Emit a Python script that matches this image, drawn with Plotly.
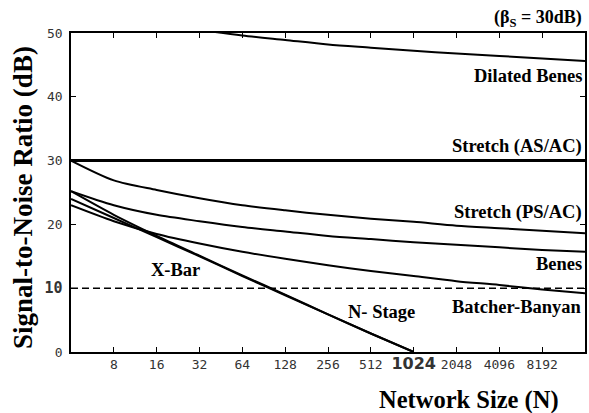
import math
import plotly.graph_objects as go

# ---- data ----
network_size = [4, 8, 16, 32, 64, 128, 256, 512, 1024, 2048, 4096, 8192, 16384]
dilated_benes = [55.2, 53.0, 51.5, 50.5, 49.6, 48.9, 48.2, 47.7, 47.2, 46.8, 46.4, 46.0, 45.6]
stretch_as_ac = [30.0, 30.0, 30.0, 30.0, 30.0, 30.0, 30.0, 30.0, 30.0, 30.0, 30.0, 30.0, 30.0]
stretch_ps_ac = [30.0, 26.9, 25.4, 24.1, 23.0, 22.2, 21.5, 20.9, 20.4, 19.8, 19.4, 19.0, 18.6]
benes = [25.2, 23.0, 21.5, 20.5, 19.6, 18.9, 18.2, 17.7, 17.2, 16.8, 16.4, 16.0, 15.7]
batcher_banyan = [23.0, 20.5, 18.5, 17.0, 15.7, 14.6, 13.6, 12.7, 11.9, 11.1, 10.5, 9.8, 9.2]
xbar_size = [4, 8, 16, 32, 64, 128, 256, 512, 1024]
xbar = [25.2, 21.5, 18.2, 15.1, 12.0, 9.0, 5.9, 2.9, 0.0]
n_stage = [24.0, 21.0, 18.0, 15.0, 11.9, 8.9, 5.9, 2.9, 0.0]
threshold_db = 10

x_tick_vals = [8, 16, 32, 64, 128, 256, 512, 1024, 2048, 4096, 8192]
x_tick_text = ["8", "16", "32", "64", "128", "256", "512",
               "<b><span style='font-size:16px;font-family:DejaVu Sans'>1024</span></b>",
               "2048", "4096", "8192"]
y_tick_vals = [0, 10, 20, 30, 40, 50]
y_tick_text = ["0", "<b><span style='font-size:15px'>10</span></b>", "20", "30", "40", "50"]

SERIF = "Liberation Serif"
MONO = "DejaVu Sans Mono"

fig = go.Figure()

def add_line(x, y, width):
    fig.add_trace(go.Scatter(x=x, y=y, mode="lines", line=dict(color="black", width=width, shape="spline", smoothing=0.8),
                             showlegend=False, hoverinfo="skip"))

add_line(network_size, dilated_benes, 2)
add_line(network_size, stretch_as_ac, 3)
add_line(network_size, stretch_ps_ac, 2)
add_line(network_size, benes, 2)
add_line(network_size, batcher_banyan, 2)
add_line(xbar_size, xbar, 2)
add_line(xbar_size, n_stage, 2)

fig.add_trace(go.Scatter(x=[network_size[0], network_size[-1]], y=[threshold_db, threshold_db], mode="lines",
                         line=dict(color="black", width=1.5, dash="7px,4px"), showlegend=False, hoverinfo="skip"))

label_font = dict(family=SERIF, size=18.5, color="black")

def right_label(text, y):
    fig.add_annotation(x=1, xref="paper", y=y, yref="y", text="<b>%s</b>" % text, showarrow=False,
                       xanchor="right", yanchor="middle", xshift=-1, font=label_font)

right_label("Dilated Benes", 43.3)
right_label("Stretch (AS/AC)", 32.2)
right_label("Stretch (PS/AC)", 21.9)
right_label("Benes", 13.8)
right_label("Batcher-Banyan", 7.0)

fig.add_annotation(x=math.log10(2 ** 9.26), y=6.3, text="<b>N- Stage</b>", showarrow=False, font=label_font)
fig.add_annotation(x=math.log10(2 ** 4.45), y=12.8, text="<b>X-Bar</b>", showarrow=False, font=label_font)

fig.add_annotation(x=1, xref="paper", y=1, yref="paper", yshift=1, text="<b>(β<sub>S</sub> = 30dB)</b>",
                   showarrow=False, xanchor="right", yanchor="bottom", xshift=-1, font=dict(family=SERIF, size=18, color="black"))

fig.add_annotation(x=0.775, xref="paper", xanchor="center", y=-0.15, yref="paper", yanchor="middle",
                   text="<b>Network Size (N)</b>", showarrow=False, font=dict(family=SERIF, size=24.5, color="black"))

fig.add_annotation(x=-0.093, xref="paper", xanchor="center", y=0.483, yref="paper", yanchor="middle", textangle=-90,
                   text="<b>Signal-to-Noise Ratio (dB)</b>", showarrow=False, font=dict(family=SERIF, size=27, color="black"))

fig.update_xaxes(type="log", range=[math.log10(4), math.log10(16384)], tickvals=x_tick_vals, ticktext=x_tick_text,
                 ticks="inside", ticklen=5, tickcolor="black", showline=True, linecolor="black", linewidth=1.5,
                 mirror="ticks", showgrid=False, zeroline=False,
                 tickfont=dict(family=MONO, size=13, color="#333"))
fig.update_yaxes(range=[0, 50], tickvals=y_tick_vals, ticktext=y_tick_text,
                 ticks="inside", ticklen=5, tickcolor="black", showline=True, linecolor="black", linewidth=1.5,
                 mirror="ticks", showgrid=False, zeroline=False, ticklabelstandoff=4,
                 tickfont=dict(family=MONO, size=13, color="#333"))

fig.update_layout(width=589, height=413, margin=dict(l=71, r=2, t=33, b=61),
                  paper_bgcolor="white", plot_bgcolor="white", showlegend=False)

fig.write_html("out.html", config={"displayModeBar": False},
               post_script="document.body.style.margin='0';document.body.style.overflow='hidden';")
